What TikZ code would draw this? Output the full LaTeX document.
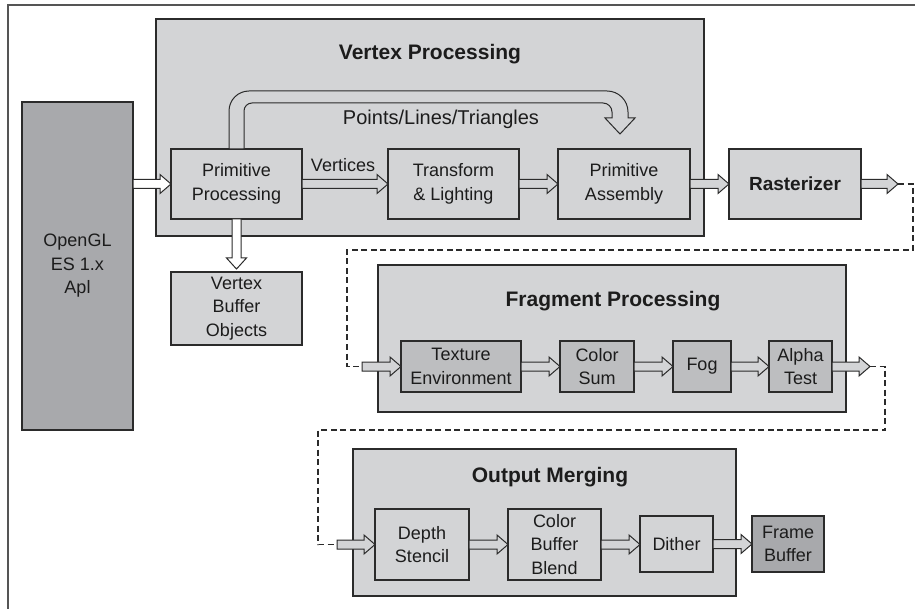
\documentclass[tikz,border=0pt]{standalone}
\usepackage{fontspec}
\setmainfont{Liberation Sans}
\usetikzlibrary{calc}
\definecolor{grp}{HTML}{D3D4D6}
\definecolor{dkfill}{HTML}{A8A9AC}
\definecolor{midfill}{HTML}{BDBEC0}
\definecolor{ln}{HTML}{2B2B2B}
\definecolor{txt}{HTML}{1C1C1C}
\definecolor{framecol}{HTML}{555555}
\newcommand\harr[3][grp]{\draw[blk, fill=#1] let \p1=(#2), \p2=(#3) in
  (\x1,{\y1+4.5pt}) -- ({\x2-11pt},{\y1+4.5pt}) -- ({\x2-11pt},{\y1+9.5pt}) -- (\x2,\y1)
  -- ({\x2-11pt},{\y1-9.5pt}) -- ({\x2-11pt},{\y1-4.5pt}) -- (\x1,{\y1-4.5pt}) -- cycle;}
\begin{document}
\begin{tikzpicture}[x=1pt,y=1pt,
  grpbox/.style={draw=ln, line width=1.2pt, fill=grp, inner sep=0pt, outer sep=0pt},
  box/.style={draw=ln, line width=1.2pt, fill=grp, align=center, text=txt,
    font=\fontsize{18}{23.5}\selectfont, inner sep=0pt, outer sep=0pt},
  midbox/.style={box, fill=midfill},
  dkbox/.style={box, fill=dkfill},
  grptitle/.style={anchor=base, text=txt, font=\fontsize{21}{25}\selectfont\bfseries, inner sep=0pt},
  lbl/.style={anchor=base, text=txt, inner sep=0pt},
  blk/.style={draw=ln, line width=1pt, line join=miter},
  dashline/.style={draw=ln, line width=1.1pt, dash pattern=on 6pt off 3.5pt},
  frameline/.style={draw=framecol, line width=1.6pt}]
\useasboundingbox (0,0) rectangle (915,-609);
\draw[frameline] (8,-609) -- (8,-5) -- (915,-5);

% groups
\node[grpbox, minimum width=548pt, minimum height=217pt] (vpg) at (430,-127.5) {};
\node[grpbox, minimum width=468pt, minimum height=147pt] (fpg) at (612,-338.5) {};
\node[grpbox, minimum width=383pt, minimum height=147pt] (omg) at (544.5,-522.5) {};

\node[grptitle] (vpt) at (430,-60) {Vertex Processing};
\node[grptitle] (fpt) at (613,-307) {Fragment Processing};
\node[grptitle] (omt) at (550,-482) {Output Merging};

% nodes
\node[dkbox, minimum width=111pt, minimum height=328pt] (ogl) at (77.5,-266) {OpenGL\\ES 1.x\\Apl};
\node[box, minimum width=131pt, minimum height=70pt] (pp) at (236.5,-184) {Primitive\\Processing};
\node[box, minimum width=131pt, minimum height=70pt] (tl) at (453.5,-184) {Transform\\\& Lighting};
\node[box, minimum width=132pt, minimum height=70pt] (pa) at (624,-184) {Primitive\\Assembly};
\node[box, minimum width=132pt, minimum height=70pt, font=\fontsize{19}{23}\selectfont\bfseries] (ras) at (795,-184) {Rasterizer};
\node[box, minimum width=131pt, minimum height=73pt] (vbo) at (236.5,-308.5) {Vertex\\Buffer\\Objects};

\node[midbox, minimum width=120pt, minimum height=51pt] (te) at (461,-366.5) {Texture\\Environment};
\node[midbox, minimum width=74pt, minimum height=51pt] (cs) at (597,-366.5) {Color\\Sum};
\node[midbox, minimum width=58pt, minimum height=51pt] (fog) at (702,-366.5) {Fog};
\node[midbox, minimum width=63pt, minimum height=51pt] (at) at (800.5,-366.5) {Alpha\\Test};

\node[box, minimum width=94pt, minimum height=71pt] (ds) at (422,-544.5) {Depth\\Stencil};
\node[box, minimum width=93pt, minimum height=71pt] (cbb) at (554.5,-544.5) {Color\\Buffer\\Blend};
\node[box, minimum width=73pt, minimum height=56pt] (dith) at (676.5,-544) {Dither};
\node[dkbox, minimum width=72pt, minimum height=56pt] (fb) at (788,-544) {Frame\\Buffer};

% labels
\node[lbl, font=\fontsize{20}{24}\selectfont] (plt) at (441,-125) {Points/Lines/Triangles};
\node[lbl, font=\fontsize{18}{22}\selectfont] (vtx) at (343,-172) {Vertices};

% bent arrow Points/Lines/Triangles
\draw[blk, fill=grp] let \p1=(pp.north), \p2=(pa.north) in
  ({\x1-7.5pt},\y1) -- ({\x1-7.5pt},{\y1+38pt})
  arc[start angle=180, end angle=90, radius=20pt]
  -- ({\x2+4pt-21pt},{\y1+58pt})
  arc[start angle=90, end angle=0, radius=21pt]
  -- ({\x2+4pt},{\y2+31pt}) -- ({\x2+11pt},{\y2+31pt}) -- ({\x2-4pt},{\y2+15pt})
  -- ({\x2-19pt},{\y2+31pt}) -- ({\x2-12pt},{\y2+31pt}) -- ({\x2-12pt},{\y1+37pt})
  arc[start angle=0, end angle=90, radius=9pt]
  -- ({\x1+7.5pt+8pt},{\y1+46pt})
  arc[start angle=90, end angle=180, radius=8pt]
  -- ({\x1+7.5pt},\y1) -- cycle;

% vertical arrow pp -> vbo
\draw[blk, fill=white] let \p1=(pp.south), \p2=(vbo.north) in
  ({\x1-4.5pt},\y1) -- ({\x1-4.5pt},{\y2+14pt}) -- ({\x1-10pt},{\y2+14pt}) -- (\x1,{\y2+3pt})
  -- ({\x1+10pt},{\y2+14pt}) -- ({\x1+4.5pt},{\y2+14pt}) -- ({\x1+4.5pt},\y1) -- cycle;

% horizontal block arrows
\harr[white]{ogl.east |- pp.west}{pp.west}
\harr{pp.east}{tl.west}
\harr{tl.east}{pa.west}
\harr{pa.east}{ras.west}
\coordinate (r1) at ([xshift=37pt]ras.east);
\harr{ras.east}{r1}
\coordinate (t1) at ([xshift=-39pt]te.west);
\draw[dashline] (r1) -| (913,-250) -| (t1 -| 347,0) -- (t1);
\harr{t1}{te.west}

\harr{te.east}{cs.west}
\harr{cs.east}{fog.west}
\harr{fog.east}{at.west}
\coordinate (a1) at ([xshift=38pt]at.east);
\harr{at.east}{a1}
\coordinate (d1) at ([xshift=-38pt]ds.west);
\draw[dashline] (a1) -| (885,-430) -| (318,-544.5) -- (d1);
\harr{d1}{ds.west}

\harr{ds.east}{cbb.west}
\harr{cbb.east}{dith.west}
\harr{dith.east}{fb.west}
\end{tikzpicture}
\end{document}
